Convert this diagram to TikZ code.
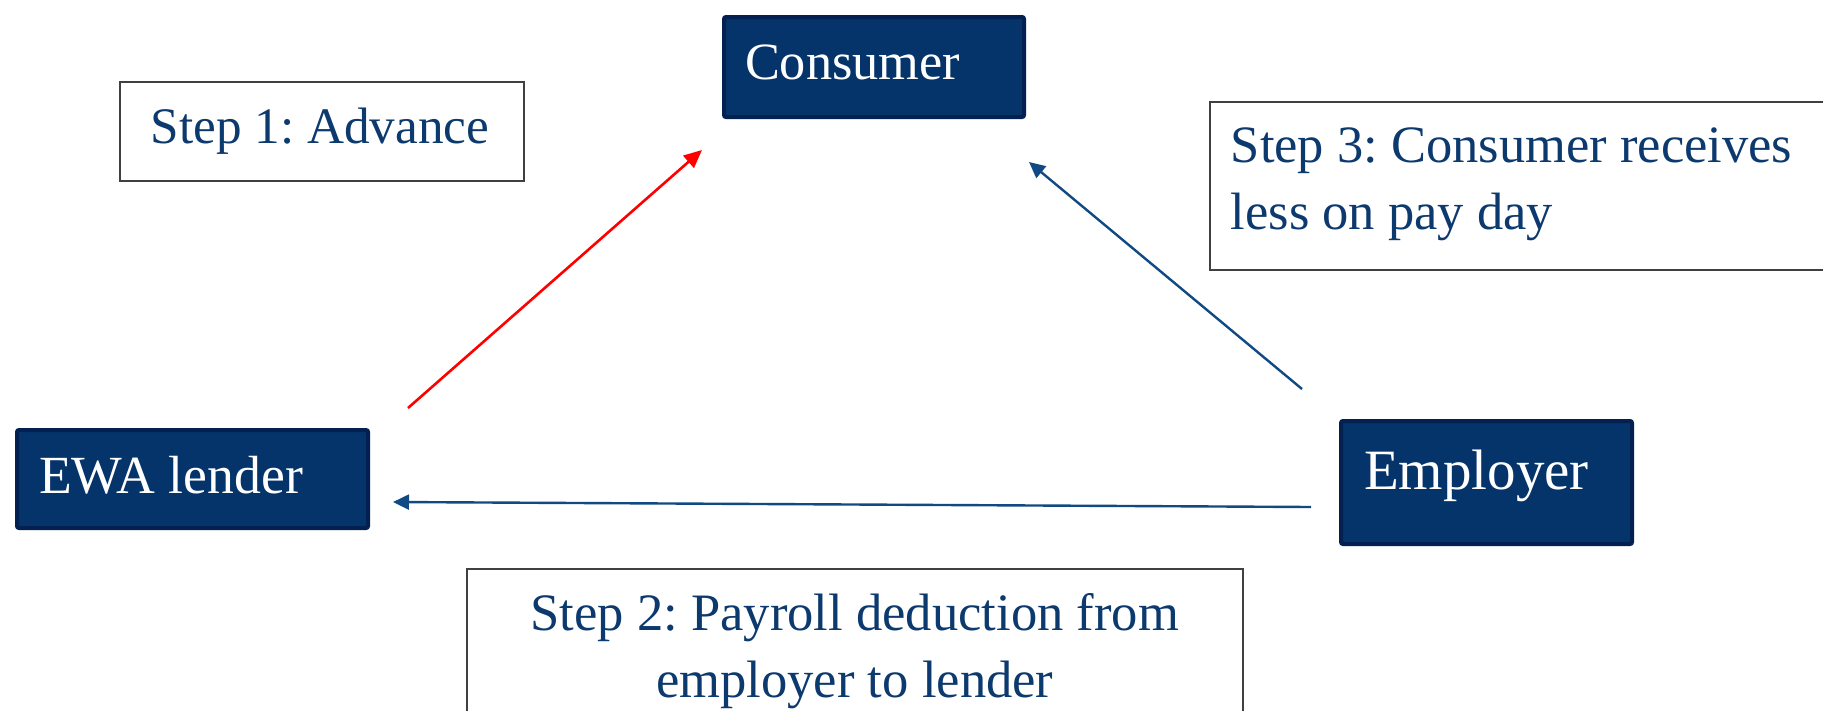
\documentclass[tikz,border=0pt]{standalone}
\usepackage{fontspec}
\setmainfont{Liberation Serif}
\usetikzlibrary{arrows.meta}
\definecolor{boxfill}{HTML}{05346B}
\definecolor{boxedge}{HTML}{022050}
\definecolor{steptext}{HTML}{0D3A6E}
\definecolor{flowblue}{HTML}{114A82}
% fixed interword spacing from the current font inside aligned nodes
\newcommand{\natspacing}{\spaceskip=\fontdimen2\font\xspaceskip=\fontdimen2\font
  \frenchspacing\hyphenpenalty=10000\relax}
\tikzset{
  party/.style={draw=boxedge, line width=4pt, fill=boxfill, text=white,
    rounded corners=2pt, anchor=north west, align=left, inner ysep=0pt},
  stepbox/.style={draw=black!75, line width=1.6pt, fill=white, text=steptext,
    anchor=north west, inner ysep=0pt},
  flow/.style={draw=flowblue, line width=2.4pt, -{Triangle[length=16pt,width=15pt]}},
  advance/.style={draw=red, line width=2.6pt, -{Triangle[length=18pt,width=16pt]}},
}
\begin{document}
\begin{tikzpicture}[x=1pt, y=-1pt]
  \useasboundingbox (0,0) rectangle (1823,710);
  \fill[white] (0,0) rectangle (1823,710);

  % parties
  \node[party, minimum width=300pt, minimum height=100pt, inner xsep=21pt,
        text width=258pt, text height=38pt, text depth=14pt,
        font=\fontsize{52.3}{60}\selectfont]
        (consumer) at (722,15) {\natspacing Consumer};
  \node[party, minimum width=351pt, minimum height=98pt, inner xsep=22pt,
        text width=307pt, text height=40pt, text depth=12pt,
        font=\fontsize{53.7}{60}\selectfont]
        (lender) at (15,428) {\natspacing EWA lender};
  \node[party, minimum width=291pt, minimum height=123pt, inner xsep=23pt,
        text width=245pt, text height=40pt, text depth=27pt,
        font=\fontsize{57}{64}\selectfont]
        (employer) at (1339,419) {\natspacing Employer};

  % step captions
  \node[stepbox, minimum width=404pt, minimum height=99pt, inner xsep=31pt,
        text width=342pt, align=left, text height=38pt, text depth=14pt,
        font=\fontsize{51.2}{60}\selectfont]
        (step1) at (119,81) {\natspacing Step 1: Advance};
  \node[stepbox, minimum width=640pt, minimum height=168pt, inner xsep=21pt,
        text width=598pt, align=left, text height=38pt, text depth=84pt,
        font=\fontsize{52.5}{67}\selectfont]
        (step3) at (1209,101) {\natspacing Step 3: Consumer receives\\less on pay day};
  \node[stepbox, minimum width=776pt, minimum height=172pt, inner xsep=20pt,
        text width=736pt, align=center, text height=38pt, text depth=86pt,
        font=\fontsize{52.6}{67}\selectfont]
        (step2) at (466,568) {\natspacing Step 2: Payroll deduction from\\employer to lender};

  % connector ends
  \coordinate (advStart) at (408,408);
  \coordinate (advEnd)   at (702,150);
  \coordinate (payStart) at (1302,389);
  \coordinate (payEnd)   at (1029,162);
  \coordinate (dedStart) at (1311,507);
  \coordinate (dedEnd)   at (393,502);

  \draw[advance] (advStart) -- (advEnd);
  \draw[flow] (payStart) -- (payEnd);
  \draw[flow] (dedStart) -- (dedEnd);
\end{tikzpicture}
\end{document}
